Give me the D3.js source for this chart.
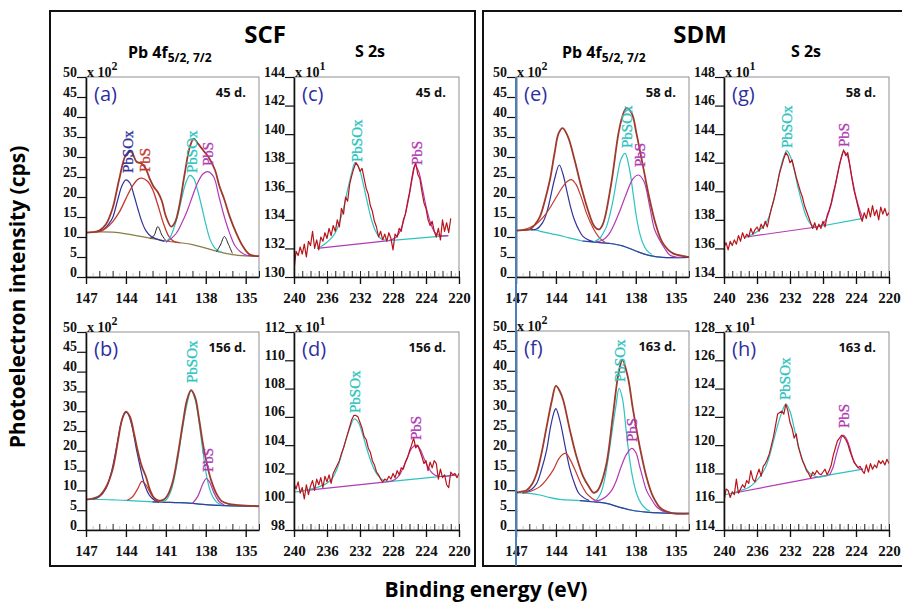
<!DOCTYPE html>
<html><head><meta charset="utf-8">
<script src="https://cdn.jsdelivr.net/npm/d3@7"></script>
<style>body{margin:0;background:#fff;} svg{display:block;}</style>
</head><body><svg id="c" width="902" height="602"></svg>
<script>
// ================= DATA =================
const pbEnergyTicks = [147, 144, 141, 138, 135];
const sEnergyTicks = [240, 236, 232, 228, 224, 220];
const pbCountTicks = [0, 5, 10, 15, 20, 25, 30, 35, 40, 45, 50];
const sTicksC = [130, 132, 134, 136, 138, 140, 142, 144];
const sTicksD = [98, 100, 102, 104, 106, 108, 110, 112];
const sTicksG = [134, 136, 138, 140, 142, 144, 146, 148];
const sTicksH = [114, 116, 118, 120, 122, 124, 126, 128];
const panelLetters = ["(a)", "(b)", "(c)", "(d)", "(e)", "(f)", "(g)", "(h)"];
const ageLabels = ["45 d.", "156 d.", "45 d.", "156 d.", "58 d.", "163 d.", "58 d.", "163 d."];
const groupTitles = ["SCF", "SDM"];
const peakNames = ["PbSOx", "PbS"];

// ---- Pb 4f, panel (a) : [binding energy, counts x10^2]
const a_bkg = [[147,11.1],[146,11.3],[145,11.2],[144,10.8],[143,10.2],[142,9.6],[141,9.0],[140,8.6],[139,8.1],[138,7.2],[137,6.3],[136,5.6],[135,5.3],[134,5.2]];
const a_pbsox52 = [[146.2,11.3],[145.7,11.8],[145.3,13.2],[145,14.8],[144.6,19.5],[144.3,22.8],[144,24.3],[143.7,23.5],[143.4,20.5],[143.1,17],[142.8,13.8],[142.5,11.6],[142.1,10.1],[141.6,9.4],[141.1,8.9]];
const a_pbs52 = [[146,11.3],[145.5,12.2],[145,13.8],[144.5,16.2],[144,19.6],[143.5,22.8],[143.1,24.4],[142.8,24.7],[142.4,24.0],[142,21.9],[141.6,18.0],[141.2,13.6],[140.8,10.3],[140.4,8.9],[140,8.6]];
const a_sat1 = [[142.2,9.6],[141.9,10.3],[141.6,12.6],[141.3,10.5],[141.0,9.1]];
const a_pbsox72 = [[141,8.9],[140.7,9.8],[140.4,12.2],[140.1,15.5],[139.8,19.8],[139.5,23.5],[139.2,25.4],[138.9,24.6],[138.6,21.5],[138.3,17.5],[138,13.2],[137.7,9.6],[137.4,7.6],[137.1,6.6],[136.8,6.2]];
const a_pbs72 = [[141,8.7],[140.6,9.6],[140.2,11.0],[139.8,13.5],[139.4,16.5],[139,20.2],[138.6,23.6],[138.2,25.8],[137.8,26.3],[137.4,25.0],[137,20.0],[136.6,15.0],[136.2,10.9],[135.8,7.8],[135.4,6.3],[135,5.5],[134.5,5.3]];
const a_sat2 = [[137.2,6.3],[136.9,8.0],[136.6,10.1],[136.3,8.2],[136.0,5.9]];
const a_envelope = [[147,11.1],[146.5,11.2],[146,11.6],[145.5,13.2],[145,17.2],[144.5,24.5],[144,30.5],[143.6,31.3],[143.2,28.8],[142.8,28.3],[142.5,27.0],[142.2,24.5],[141.9,22.5],[141.6,21.2],[141.3,19.0],[141,15.2],[140.6,12.6],[140.3,13.8],[140,17.6],[139.6,25.5],[139.2,32.5],[138.9,34.6],[138.6,33.4],[138.2,31.7],[137.8,30.0],[137.3,26.7],[137,23.0],[136.6,19.3],[136.2,15.1],[135.7,10.9],[135.2,7.6],[134.7,5.6],[134,5.2]];

// ---- panel (b)
const b_bkg = [[147,7.7],[146,7.7],[145,7.6],[144,7.5],[143,7.3],[142,7.1],[141,7.0],[140,6.9],[139,6.7],[138,6.4],[137,6.2],[136,6.1],[134,6.0]];
const b_pbsox52 = [[146.5,7.8],[146,8.4],[145.5,10.5],[145.1,14.5],[144.7,21],[144.4,26.5],[144.1,29.5],[143.9,29.6],[143.6,27],[143.2,20.2],[142.9,15.5],[142.6,11.5],[142.2,8.6],[141.8,7.4],[141.4,7.0]];
const b_pbs52 = [[143.9,7.5],[143.5,8.4],[143.1,10.5],[142.8,12.3],[142.5,11.4],[142.1,9.0],[141.7,7.4],[141.3,7.0]];
const b_pbsox72 = [[141.5,7.0],[141,7.5],[140.6,10.0],[140.2,16.0],[139.8,24.5],[139.4,32.0],[139.1,35.2],[138.8,33.0],[138.5,27.0],[138.2,19.5],[137.9,13.0],[137.6,9.3],[137.2,7.1],[136.8,6.3]];
const b_pbs72 = [[139,6.7],[138.6,8.5],[138.2,11.8],[137.95,13.0],[137.7,12.0],[137.4,9.5],[137.0,7.2],[136.6,6.3]];
const b_envelope = [[147,7.7],[146.5,7.9],[146,8.6],[145.5,10.8],[145,15.3],[144.6,22.5],[144.3,27.8],[144.0,29.9],[143.7,28.6],[143.4,24.5],[143.1,19.8],[142.8,16.0],[142.5,13.5],[142.2,10.2],[141.9,8.2],[141.6,7.5],[141.2,7.6],[140.9,8.6],[140.5,12.0],[140.1,19.0],[139.7,27.5],[139.4,33.0],[139.1,35.3],[138.8,33.5],[138.5,28.0],[138.2,21.5],[137.9,16.5],[137.6,12.6],[137.2,9.2],[136.8,7.3],[136.3,6.6],[135.5,6.3],[134,6.0]];

// ---- panel (e)
const e_bkg = [[147,11.6],[146.5,11.8],[146,11.9],[145.5,11.7],[145,11.3],[144,10.6],[143,9.8],[142,9.0],[141,8.7],[140,8.4],[139,7.8],[138,6.5],[137,5.4],[136,4.9],[134,4.9]];
const e_pbsox52 = [[145.9,11.8],[145.45,12.0],[145,13.6],[144.7,16.0],[144.45,19.3],[144.1,24.5],[143.75,28.0],[143.45,25.5],[143.2,21.8],[142.9,17.5],[142.6,14.2],[142.2,11.3],[141.95,10.1],[141.45,9.1],[141,8.7]];
const e_pbs52 = [[146.5,11.8],[146,12.3],[145.5,13.2],[145,14.8],[144.5,17.0],[144,19.8],[143.5,22.5],[143.1,24.0],[142.8,24.3],[142.5,23.2],[142.2,20.9],[141.9,18.0],[141.7,15.9],[141.2,12.2],[140.7,9.7],[140.3,8.6]];
const e_pbsox72 = [[141.2,8.7],[140.7,9.7],[140.4,11.3],[140.2,12.6],[139.95,15.5],[139.7,19.3],[139.4,25.0],[139.1,29.5],[138.8,30.9],[138.5,27.5],[138.2,20.9],[137.95,15.0],[137.7,10.9],[137.45,8.3],[137.2,6.8],[136.8,5.6]];
const e_pbs72 = [[141,8.7],[140.45,9.3],[140,10.8],[139.7,12.6],[139.2,16.5],[138.7,20.9],[138.2,24.6],[137.8,25.5],[137.4,24.0],[136.95,17.6],[136.6,12.0],[136.2,9.2],[135.8,7.0],[135.45,5.5],[135,5.0],[134.5,4.9]];
const e_envelope = [[147,11.6],[146.5,11.7],[145.95,11.9],[145.6,13.0],[145.2,15.1],[144.8,19.5],[144.45,24.3],[144.1,31.0],[143.8,35.9],[143.5,37.2],[143.1,35.1],[142.6,29.3],[142.1,22.6],[141.6,16.8],[141.1,12.6],[140.75,11.9],[140.5,13.0],[140.3,15.1],[139.8,24.3],[139.3,35.9],[139.0,40.2],[138.7,42.2],[138.3,40.9],[137.95,35.9],[137.45,27.6],[136.95,19.3],[136.45,12.6],[135.95,8.4],[135.2,5.9],[134.2,5.1],[134,5.0]];

// ---- panel (f)
const f_bkg = [[147,9.4],[146,9.2],[145.2,8.8],[144.5,8.2],[143.7,7.7],[142.2,7.4],[141.2,7.1],[140.2,6.7],[139.2,5.7],[138.2,4.9],[137.2,4.5],[136.2,4.3],[134,4.2]];
const f_pbsox52 = [[146.5,9.3],[146.2,9.6],[145.8,10.3],[145.45,11.7],[145.1,15.0],[144.7,20.1],[144.4,26.0],[144.1,30.0],[144.0,30.5],[143.7,27.5],[143.3,20.9],[143.0,16.0],[142.7,12.6],[142.3,9.3],[141.95,8.2],[141.5,7.4]];
const f_pbs52 = [[146.5,9.3],[146.2,9.5],[145.7,10.0],[145.2,10.9],[144.7,12.7],[144.2,15.1],[143.8,17.8],[143.5,19.0],[143.25,19.25],[142.9,17.5],[142.45,14.2],[142.1,11.5],[141.7,9.2],[141.3,8.0],[140.95,7.3]];
const f_pbsox72 = [[141.3,7.1],[140.95,7.6],[140.6,9.5],[140.3,13.4],[140.05,18.5],[139.8,24.3],[139.5,31.0],[139.25,35.6],[139.0,33.0],[138.7,24.3],[138.45,17.5],[138.2,12.6],[137.9,8.8],[137.6,6.7],[137.2,5.2],[136.95,4.8]];
const f_pbs72 = [[141.3,7.1],[140.7,7.5],[140.2,8.5],[139.8,10.0],[139.45,12.5],[139.1,15.9],[138.7,19.0],[138.3,20.5],[138.0,19.5],[137.7,15.9],[137.45,12.8],[137.2,10.0],[136.8,7.6],[136.45,5.9],[136.0,4.8],[135.5,4.4]];
const f_envelope = [[147,9.4],[146.5,9.7],[146.2,10.0],[145.8,11.5],[145.45,14.2],[145.1,19.0],[144.7,25.9],[144.3,32.6],[144.0,36.2],[143.7,34.8],[143.45,32.6],[142.95,25.1],[142.45,18.4],[141.95,13.4],[141.45,10.5],[141.2,9.4],[140.95,9.6],[140.7,10.9],[140.2,16.7],[139.7,29.3],[139.3,39.3],[139.0,42.7],[138.6,38.5],[138.2,30.1],[137.7,20.9],[137.2,13.4],[136.7,8.4],[136.1,5.4],[135.2,4.2],[134,4.1]];

// ---- S 2s : raw spectra on the instrument grid (240 eV down, 0.25 eV step), counts x10^1
const sGridStart = 240, sGridStep = 0.25;
const c_counts = [130.5,131.8,131.5,132.1,131.6,132.3,131.4,132.5,
  132.2,133.2,132.0,132.6,131.9,132.8,132.5,133.1,
  132.7,133.4,132.9,133.6,133.2,134.0,133.5,134.8,
  134.4,135.6,135.3,136.5,137.1,137.6,138.0,137.8,
  137.4,137.6,136.9,136.2,135.8,135.0,134.6,133.9,
  133.5,132.8,133.2,132.6,133.0,132.5,133.1,132.7,
  131.9,133.0,132.8,133.4,133.2,134.0,134.4,135.2,
  135.9,136.8,137.6,138.0,137.2,136.9,136.0,135.2,
  134.8,134.0,133.6,133.9,133.2,132.8,133.4,132.6,
  134.0,133.2,133.8,133.1,134.1];
const d_counts = [101.3,100.9,101.4,100.6,101.0,100.2,101.2,100.5,
  101.1,101.5,100.8,101.6,101.2,101.7,101.0,101.8,
  101.4,101.9,101.3,102.0,102.3,102.6,102.9,103.4,
  103.8,104.3,104.8,105.3,105.8,106.1,106.1,106.0,
  105.6,105.2,104.6,104.4,103.8,103.5,102.9,102.6,
  102.1,101.9,101.6,101.4,101.6,101.5,101.8,101.6,
  102.0,101.7,102.2,101.9,102.4,102.3,102.8,103.1,
  103.6,104.0,104.5,103.8,104.0,103.6,103.2,102.7,
  102.9,102.2,102.8,102.4,102.9,102.7,101.6,102.3,
  101.7,101.9,101.2,101.0,102.1,101.9,102.0,101.7,102.0];
const g_counts = [136.1,136.4,135.9,136.5,136.2,136.6,136.3,136.9,
  136.5,137.1,136.7,137.0,136.8,137.4,137.0,137.3,
  137.5,137.2,137.7,137.4,137.9,137.5,138.2,138.8,
  139.3,139.9,140.6,141.3,141.8,142.3,142.7,142.5,
  142.0,142.2,141.6,141.0,140.5,140.0,139.6,139.0,
  138.6,138.2,137.8,137.4,137.8,137.3,137.7,137.4,
  137.9,137.5,138.3,138.7,139.2,139.9,140.5,141.2,
  141.9,142.4,142.9,142.5,142.7,141.8,140.9,140.1,
  139.5,138.9,138.3,137.9,138.5,138.1,138.8,138.2,
  139.0,138.3,138.7,138.0,138.9,138.4,138.8,138.3,138.5];
const h_counts = [116.0,116.9,116.8,116.3,116.7,116.5,117.6,116.6,
  116.9,117.2,117.0,117.5,117.3,118.2,117.6,117.4,
  117.9,118.3,117.8,118.5,118.7,119.0,119.4,120.0,
  120.6,121.4,122.2,122.3,122.4,122.2,122.9,122.4,
  121.6,121.2,120.5,120.8,119.9,119.4,118.9,118.6,
  118.2,118.0,117.7,118.1,117.9,118.2,118.0,117.9,
  118.1,118.3,117.9,118.2,118.6,119.3,119.8,120.3,
  120.5,120.7,120.6,120.4,120.1,119.6,119.2,118.8,
  118.6,118.4,118.5,118.2,118.0,118.6,118.1,118.7,
  118.3,118.6,118.4,118.9,118.7,118.9,118.6,119.0,118.7];

// ---- S 2s fitted components
const c_bkgL = [[237.2,132.0],[228.5,132.55]];
const c_bkgR = [[228.5,132.55],[221.3,132.9]];
const c_pbsox = [[237.2,132.0],[236.3,132.3],[235.5,132.7],[235,133.1],[234.5,133.8],[234,134.8],[233.5,136.1],[233,137.3],[232.6,138.0],[232.1,137.6],[231.6,136.5],[231.1,135.2],[230.6,134.0],[230.1,133.2],[229.5,132.7],[228.5,132.55]];
const c_pbs = [[228.5,132.55],[227.6,132.8],[227,133.4],[226.5,134.4],[226,135.8],[225.6,137.1],[225.3,137.8],[224.9,137.4],[224.4,136.1],[223.9,134.7],[223.4,133.7],[222.9,133.1],[222.3,132.9],[221.3,132.9]];
const d_bkgL = [[238.5,100.8],[228.8,101.4]];
const d_bkgR = [[228.8,101.4],[220.3,101.9]];
const d_pbsox = [[240,100.7],[239,100.75],[238,100.9],[237,101.05],[236,101.3],[235.3,101.7],[234.8,102.3],[234.3,103.2],[233.8,104.2],[233.3,105.1],[232.7,105.85],[232.2,105.6],[231.7,104.8],[231.2,103.8],[230.7,102.9],[230.2,102.2],[229.6,101.7],[228.8,101.4]];
const d_pbs = [[228.8,101.4],[227.8,101.55],[227.2,101.9],[226.7,102.5],[226.2,103.2],[225.7,103.8],[225.2,104.0],[224.7,103.7],[224.2,103.0],[223.7,102.4],[223.2,102.0],[222.5,101.8],[221.5,101.8],[220.3,101.9]];
const g_bkgL = [[237.3,136.8],[228.8,137.5]];
const g_bkgR = [[228.8,137.5],[223.15,138.1]];
const g_pbsox = [[237.3,136.8],[236.2,137.1],[235.3,137.5],[234.7,138.0],[234.2,138.9],[233.7,140.1],[233.2,141.5],[232.7,142.5],[232.4,142.85],[232.0,142.5],[231.5,141.5],[231.0,140.2],[230.5,139.1],[230.0,138.2],[229.5,137.7],[228.8,137.5]];
const g_pbs = [[228.8,137.5],[228.0,137.7],[227.5,138.2],[227.0,139.1],[226.5,140.4],[226.0,141.8],[225.5,142.8],[225.0,142.4],[224.5,141.0],[224.0,139.6],[223.5,138.6],[223.15,138.1]];
const h_bkgL = [[238.9,116.6],[227.2,117.9]];
const h_bkgR = [[227.2,117.9],[223.15,118.3]];
const h_pbsox = [[240,116.5],[239,116.6],[238,116.8],[237,117.0],[236.2,117.4],[235.6,117.8],[235,118.4],[234.5,119.2],[234,120.3],[233.5,121.4],[233,122.3],[232.5,122.9],[232,122.4],[231.5,121.2],[231,120.0],[230.5,119.0],[230,118.3],[229.4,117.9],[228.5,117.75],[227.2,117.9]];
const h_pbs = [[227.2,117.9],[226.8,118.4],[226.4,119.3],[226,120.1],[225.6,120.7],[225.2,120.5],[224.8,119.9],[224.4,119.1],[224,118.6],[223.5,118.3],[223.15,118.3]];

// ================= STYLE / LAYOUT =================
const COL = {blue:"#32329a", red:"#c43a30", cyan:"#2cc3c0", magenta:"#b23ab5", env:"#9e3a2c",
  bkgA:"#8c7b45", black:"#222", data:"#b8141a", label:"#2f2f9e", bkgBlue:"#3d3d9e"};
const SANS = "'Open Sans', Arial, sans-serif";
const SERIF = "'Liberation Serif', 'Times New Roman', serif";

const svg = d3.select("#c");

// frames
svg.append("rect").attr("x",50).attr("y",11).attr("width",425).attr("height",555)
  .attr("fill","none").attr("stroke","#111").attr("stroke-width",2);
svg.append("rect").attr("x",483).attr("y",11).attr("width",425).attr("height",555)
  .attr("fill","none").attr("stroke","#111").attr("stroke-width",2);

// group titles
svg.append("text").attr("x",265).attr("y",43).attr("text-anchor","middle")
  .attr("font-family",SANS).attr("font-weight","bold").attr("font-size",24).text(groupTitles[0]);
svg.append("text").attr("x",700).attr("y",43).attr("text-anchor","middle")
  .attr("font-family",SANS).attr("font-weight","bold").attr("font-size",24).text(groupTitles[1]);

// sub-titles
function pbTitle(x) {
  const t = svg.append("text").attr("x",x).attr("y",58).attr("font-family",SANS)
    .attr("font-weight","bold").attr("font-size",16);
  t.append("tspan").text("Pb 4f");
  t.append("tspan").attr("font-size",12).attr("dy",4).text("5/2, 7/2");
}
pbTitle(128); pbTitle(562);
[[370],[806]].forEach(([x]) => svg.append("text").attr("x",x).attr("y",57).attr("text-anchor","middle")
  .attr("font-family",SANS).attr("font-weight","bold").attr("font-size",16).text("S 2s"));

// axis titles
svg.append("text").attr("transform","translate(25,297) rotate(-90)").attr("text-anchor","middle")
  .attr("font-family",SANS).attr("font-weight","bold").attr("font-size",21).text("Photoelectron intensity (cps)");
svg.append("text").attr("x",486).attr("y",597).attr("text-anchor","middle")
  .attr("font-family",SANS).attr("font-weight","bold").attr("font-size",21).text("Binding energy (eV)");

const sEnergies = d3.range(sGridStart, 219.99, -sGridStep);
const zipS = vals => vals.map((v,i) => [sEnergies[i], v]);
const below = (arr, e) => arr.filter(d => d[0] <= e);

const pbX = [147,134], sX = [240,220];
const panels = [
  {id:0, x0:86, x1:259, y0:77, y1:277, xd:pbX, yt:pbCountTicks, mult:"2", kind:"pb",
   curves:[[a_bkg,COL.bkgA,1.2],[a_pbsox52,COL.blue,1.2],[a_pbs52,COL.red,1.3],[a_sat1,COL.black,1],[a_pbsox72,COL.cyan,1.2],[a_pbs72,COL.magenta,1.2],[a_sat2,COL.black,1],[a_envelope,COL.env,1.8]],
   names:[[128,173,COL.blue,0],[145,172,COL.red,1],[192,173,COL.cyan,0],[208,166,COL.magenta,1]]},
  {id:1, x0:86, x1:259, y0:332, y1:530, xd:pbX, yt:pbCountTicks, mult:"2", kind:"pb",
   curves:[[b_bkg,COL.cyan,1.2],[below(b_bkg,142),COL.bkgBlue,1.2],[b_pbsox52,COL.blue,1.2],[b_pbs52,COL.red,1.2],[b_pbsox72,COL.cyan,1.2],[b_pbs72,COL.magenta,1.2],[b_envelope,COL.env,1.8]],
   names:[[192,383,COL.cyan,0],[208,472,COL.magenta,1]]},
  {id:2, x0:294, x1:459, y0:77, y1:277, xd:sX, yt:sTicksC, mult:"1", kind:"s",
   curves:[[c_bkgL,COL.magenta,1.2],[c_bkgR,COL.cyan,1.2],[c_pbsox,COL.cyan,1.2],[c_pbs,COL.magenta,1.2],[zipS(c_counts),COL.data,1.2]],
   names:[[357,162,COL.cyan,0],[417,165,COL.magenta,1]]},
  {id:3, x0:294, x1:459, y0:332, y1:530, xd:sX, yt:sTicksD, mult:"1", kind:"s",
   curves:[[d_bkgL,COL.magenta,1.2],[d_bkgR,COL.cyan,1.2],[d_pbsox,COL.cyan,1.2],[d_pbs,COL.magenta,1.2],[zipS(d_counts),COL.data,1.2]],
   names:[[355,413,COL.cyan,0],[416,440,COL.magenta,1]]},
  {id:4, x0:516, x1:689, y0:77, y1:277, xd:pbX, yt:pbCountTicks, mult:"2", kind:"pb",
   curves:[[e_bkg,COL.cyan,1.2],[below(e_bkg,142),COL.bkgBlue,1.2],[e_pbsox52,COL.blue,1.2],[e_pbs52,COL.red,1.2],[e_pbsox72,COL.cyan,1.2],[e_pbs72,COL.magenta,1.2],[e_envelope,COL.env,1.8]],
   names:[[627,148,COL.cyan,0],[640,167,COL.magenta,1]]},
  {id:5, x0:516, x1:689, y0:331, y1:530, xd:pbX, yt:pbCountTicks, mult:"2", kind:"pb",
   curves:[[f_bkg,COL.cyan,1.2],[below(f_bkg,142.2),COL.bkgBlue,1.2],[f_pbsox52,COL.blue,1.2],[f_pbs52,COL.red,1.2],[f_pbsox72,COL.cyan,1.2],[f_pbs72,COL.magenta,1.2],[f_envelope,COL.env,1.8]],
   names:[[620,382,COL.cyan,0],[632,442,COL.magenta,1]]},
  {id:6, x0:724, x1:889, y0:77, y1:277, xd:sX, yt:sTicksG, mult:"1", kind:"s",
   curves:[[g_bkgL,COL.magenta,1.2],[g_bkgR,COL.cyan,1.2],[g_pbsox,COL.cyan,1.2],[g_pbs,COL.magenta,1.2],[zipS(g_counts),COL.data,1.2]],
   names:[[787,148,COL.cyan,0],[844,147,COL.magenta,1]]},
  {id:7, x0:724, x1:889, y0:332, y1:530, xd:sX, yt:sTicksH, mult:"1", kind:"s",
   curves:[[h_bkgL,COL.magenta,1.2],[h_bkgR,COL.cyan,1.2],[h_pbsox,COL.cyan,1.2],[h_pbs,COL.magenta,1.2],[zipS(h_counts),COL.data,1.2]],
   names:[[785,400,COL.cyan,0],[844,428,COL.magenta,1]]}
];

panels.forEach(p => {
  const x = d3.scaleLinear().domain(p.xd).range([p.x0, p.x1]);
  const y = d3.scaleLinear().domain([p.yt[0], p.yt[p.yt.length-1]]).range([p.y1, p.y0]);
  const g = svg.append("g");
  const clipId = "clip" + p.id;
  g.append("clipPath").attr("id",clipId).append("rect")
    .attr("x",p.x0).attr("y",p.y0).attr("width",p.x1-p.x0).attr("height",p.y1-p.y0);
  // box
  g.append("rect").attr("x",p.x0).attr("y",p.y0).attr("width",p.x1-p.x0).attr("height",p.y1-p.y0)
    .attr("fill","#fff").attr("stroke","#8f8f8f").attr("stroke-width",1);

  // curves
  const smooth = d3.line().x(d=>x(d[0])).y(d=>y(d[1])).curve(d3.curveCatmullRom.alpha(0.5));
  const raw = d3.line().x(d=>x(d[0])).y(d=>y(d[1]));
  const cg = g.append("g").attr("clip-path",`url(#${clipId})`);
  p.curves.forEach(([data,color,w]) => {
    const isRaw = (p.kind==="s" && data.length > 60) || data.length === 2;
    cg.append("path").datum(data).attr("d", isRaw ? raw(data) : smooth(data))
      .attr("fill","none").attr("stroke",color).attr("stroke-width",w).attr("stroke-linejoin","round");
  });

  // x axis: faint half-steps, minor inside, major outside with labels
  const lo = Math.min(...p.xd), hi = Math.max(...p.xd);
  g.append("g").attr("transform",`translate(0,${p.y1})`)
    .call(d3.axisBottom(x).tickValues(d3.range(lo+0.5, hi, 1)).tickSize(-4).tickFormat("").tickSizeOuter(0))
    .call(s => { s.select(".domain").remove(); s.selectAll("line").attr("stroke","#c8c8c8"); });
  g.append("g").attr("transform",`translate(0,${p.y1})`)
    .call(d3.axisBottom(x).tickValues(d3.range(lo, hi+0.01, 1)).tickSize(-6).tickFormat("").tickSizeOuter(0))
    .call(s => { s.select(".domain").remove(); s.selectAll("line").attr("stroke","#222"); });
  const xa = g.append("g").attr("transform",`translate(0,${p.y1})`)
    .call(d3.axisBottom(x).tickValues(p.kind==="pb" ? pbEnergyTicks : sEnergyTicks).tickSize(7).tickSizeOuter(0).tickPadding(8));
  xa.select(".domain").attr("stroke","#111").attr("stroke-width",1.6);
  xa.selectAll("line").attr("stroke","#111").attr("stroke-width",1.4);
  xa.selectAll("text").attr("font-family",SERIF).attr("font-weight","bold").attr("font-size",15).attr("fill","#111");

  // y axis
  const ya = g.append("g").attr("transform",`translate(${p.x0},0)`)
    .call(d3.axisLeft(y).tickValues(p.yt).tickSize(9).tickSizeOuter(0).tickPadding(0));
  ya.select(".domain").attr("stroke","#111").attr("stroke-width",1.6);
  ya.selectAll("line").attr("stroke","#111").attr("stroke-width",1.2);
  ya.selectAll("text").attr("font-family",SERIF).attr("font-weight","bold").attr("font-size",14)
    .attr("fill","#111").attr("dy","-1");
  // multiplier
  const mt = g.append("text").attr("x",p.x0+1).attr("y",p.y0).attr("font-family",SERIF)
    .attr("font-weight","bold").attr("font-size",14).attr("fill","#111");
  mt.append("tspan").text("x 10");
  mt.append("tspan").attr("dy",-7).attr("font-size",12).text(p.mult);

  // panel letter and age
  g.append("text").attr("x",p.x0+8).attr("y",p.y0+24).attr("font-family",SANS).attr("font-size",20)
    .attr("fill",COL.label).text(panelLetters[p.id]);
  g.append("text").attr("x",p.x1-13).attr("y",p.y0+20).attr("text-anchor","end").attr("font-family",SANS)
    .attr("font-weight","bold").attr("font-size",13).attr("fill","#111").text(ageLabels[p.id]);

  // peak names (rotated)
  p.names.forEach(([nx,ny,color,k]) => {
    g.append("text").attr("transform",`translate(${nx+5},${ny}) rotate(-90)`)
      .attr("font-family",SERIF).attr("font-size",15).attr("fill",color)
      .attr("stroke",color).attr("stroke-width",0.3).text(peakNames[k]);
  });
});

// blue vertical guide line in the SDM frame
svg.append("line").attr("x1",516).attr("x2",516).attr("y1",77).attr("y2",566)
  .attr("stroke","#4a80b8").attr("stroke-width",2);
</script></body></html>
